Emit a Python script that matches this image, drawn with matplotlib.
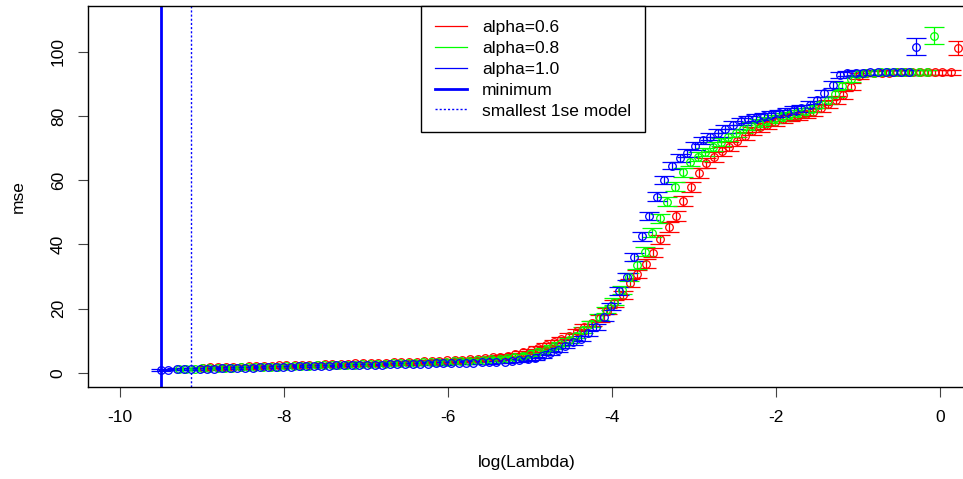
import matplotlib

matplotlib.use("Agg")
import matplotlib.pyplot as plt
from matplotlib.lines import Line2D

plt.rcParams["font.family"] = ["Liberation Sans", "DejaVu Sans"]

# log(lambda) path for each alpha, largest lambda first
LOGLAM_06 = [
    0.22, 0.13, 0.03, -0.06, -0.15, -0.25, -0.34, -0.43, -0.52, -0.62,
    -0.71, -0.80, -0.90, -0.99, -1.08, -1.18, -1.27, -1.36, -1.45, -1.55,
    -1.64, -1.73, -1.83, -1.92, -2.01, -2.11, -2.20, -2.29, -2.38, -2.48,
    -2.57, -2.66, -2.76, -2.85, -2.94, -3.04, -3.13, -3.22, -3.31, -3.41,
    -3.50, -3.59, -3.69, -3.78, -3.87, -3.97, -4.06, -4.15, -4.24, -4.34,
    -4.43, -4.52, -4.62, -4.71, -4.80, -4.90, -4.99, -5.08, -5.18, -5.27,
    -5.36, -5.45, -5.55, -5.64, -5.73, -5.83, -5.92, -6.01, -6.11, -6.20,
    -6.29, -6.38, -6.48, -6.57, -6.66, -6.76, -6.85, -6.94, -7.04, -7.13,
    -7.22, -7.31, -7.41, -7.50, -7.59, -7.69, -7.78, -7.87, -7.97, -8.06,
    -8.15, -8.24, -8.34, -8.43, -8.52, -8.62, -8.71, -8.80, -8.90, -8.99,
]
LOGLAM_08 = [
    -0.07, -0.16, -0.26, -0.35, -0.44, -0.54, -0.63, -0.72, -0.81, -0.91,
    -1.00, -1.09, -1.19, -1.28, -1.37, -1.47, -1.56, -1.65, -1.74, -1.84,
    -1.93, -2.02, -2.12, -2.21, -2.30, -2.40, -2.49, -2.58, -2.67, -2.77,
    -2.86, -2.95, -3.05, -3.14, -3.23, -3.33, -3.42, -3.51, -3.60, -3.70,
    -3.79, -3.88, -3.98, -4.07, -4.16, -4.26, -4.35, -4.44, -4.53, -4.63,
    -4.72, -4.81, -4.91, -5.00, -5.09, -5.19, -5.28, -5.37, -5.47, -5.56,
    -5.65, -5.74, -5.84, -5.93, -6.02, -6.12, -6.21, -6.30, -6.40, -6.49,
    -6.58, -6.67, -6.77, -6.86, -6.95, -7.05, -7.14, -7.23, -7.33, -7.42,
    -7.51, -7.60, -7.70, -7.79, -7.88, -7.98, -8.07, -8.16, -8.26, -8.35,
    -8.44, -8.53, -8.63, -8.72, -8.81, -8.91, -9.00, -9.09, -9.19, -9.28,
]
LOGLAM_10 = [
    -0.29, -0.38, -0.48, -0.57, -0.66, -0.76, -0.85, -0.94, -1.03, -1.13,
    -1.22, -1.31, -1.41, -1.50, -1.59, -1.69, -1.78, -1.87, -1.96, -2.06,
    -2.15, -2.24, -2.34, -2.43, -2.52, -2.62, -2.71, -2.80, -2.89, -2.99,
    -3.08, -3.17, -3.27, -3.36, -3.45, -3.55, -3.64, -3.73, -3.82, -3.92,
    -4.01, -4.10, -4.20, -4.29, -4.38, -4.48, -4.57, -4.66, -4.75, -4.85,
    -4.94, -5.03, -5.13, -5.22, -5.31, -5.41, -5.50, -5.59, -5.69, -5.78,
    -5.87, -5.96, -6.06, -6.15, -6.24, -6.34, -6.43, -6.52, -6.62, -6.71,
    -6.80, -6.89, -6.99, -7.08, -7.17, -7.27, -7.36, -7.45, -7.55, -7.64,
    -7.73, -7.82, -7.92, -8.01, -8.10, -8.20, -8.29, -8.38, -8.48, -8.57,
    -8.66, -8.75, -8.85, -8.94, -9.03, -9.13, -9.22, -9.31, -9.41, -9.50,
]

MSE_06 = [
    101.1, 93.7, 93.7, 93.7, 93.7, 93.6, 93.6, 93.6, 93.6, 93.5,
    93.5, 93.4, 93.3, 92.5, 89.2, 86.6, 85.0, 83.8, 82.4, 81.3,
    80.5, 80.0, 79.6, 79.0, 78.3, 77.3, 76.5, 75.4, 73.8, 72.1,
    70.5, 69.0, 67.2, 65.3, 62.2, 58.0, 53.6, 48.9, 45.4, 41.6,
    37.5, 34.0, 30.8, 27.9, 24.3, 21.7, 19.2, 17.0, 15.4, 14.2,
    12.9, 11.5, 10.4, 9.5, 8.6, 7.8, 7.0, 6.4, 5.8, 5.4,
    5.1, 4.8, 4.6, 4.4, 4.3, 4.1, 4.0, 3.9, 3.8, 3.7,
    3.6, 3.5, 3.45, 3.4, 3.3, 3.2, 3.15, 3.1, 3.0, 2.95,
    2.9, 2.8, 2.75, 2.7, 2.6, 2.55, 2.5, 2.4, 2.35, 2.3,
    2.2, 2.15, 2.1, 2.0, 1.95, 1.9, 1.8, 1.75, 1.7, 1.6,
]
MSE_08 = [
    105.1, 93.7, 93.7, 93.7, 93.6, 93.6, 93.6, 93.6, 93.5, 93.4,
    93.0, 91.5, 89.5, 87.0, 85.0, 83.5, 82.3, 81.5, 80.9, 80.3,
    79.7, 79.1, 78.5, 77.8, 77.0, 75.9, 74.7, 73.4, 72.0, 70.5,
    68.8, 67.4, 65.8, 62.5, 58.0, 53.3, 48.1, 43.7, 37.8, 33.6,
    29.8, 25.8, 22.2, 19.6, 17.4, 15.3, 13.3, 11.6, 10.2, 9.0,
    8.0, 7.1, 6.4, 5.8, 5.3, 4.9, 4.6, 4.4, 4.2, 4.0,
    3.9, 3.8, 3.7, 3.6, 3.5, 3.4, 3.3, 3.25, 3.2, 3.1,
    3.0, 2.95, 2.9, 2.8, 2.75, 2.7, 2.6, 2.55, 2.5, 2.4,
    2.35, 2.3, 2.2, 2.15, 2.1, 2.0, 1.95, 1.9, 1.85, 1.8,
    1.75, 1.7, 1.6, 1.55, 1.5, 1.45, 1.4, 1.35, 1.3, 1.3,
]
MSE_10 = [
    101.6, 93.7, 93.7, 93.6, 93.6, 93.6, 93.6, 93.5, 93.5, 93.3,
    92.8, 89.7, 87.1, 85.0, 83.5, 82.5, 81.9, 81.4, 80.9, 80.4,
    79.9, 79.5, 79.0, 78.4, 77.3, 76.0, 74.8, 73.6, 72.4, 70.7,
    68.6, 66.9, 64.6, 60.1, 54.9, 48.9, 42.5, 36.0, 30.0, 25.5,
    20.7, 17.3, 14.4, 12.3, 10.6, 9.5, 8.5, 7.2, 6.1, 5.2,
    4.6, 4.2, 3.9, 3.7, 3.5, 3.4, 3.3, 3.25, 3.2, 3.15,
    3.1, 3.05, 3.0, 2.95, 2.9, 2.85, 2.8, 2.75, 2.7, 2.65,
    2.6, 2.55, 2.5, 2.45, 2.4, 2.35, 2.3, 2.25, 2.2, 2.15,
    2.1, 2.0, 1.95, 1.9, 1.85, 1.8, 1.7, 1.65, 1.6, 1.5,
    1.45, 1.4, 1.35, 1.3, 1.25, 1.2, 1.15, 1.1, 1.05, 1.0,
]

SE_06 = [
    2.2, 0.8, 0.8, 0.8, 0.8, 0.8, 0.8, 0.8, 0.8, 0.8,
    0.8, 0.8, 0.9, 1.0, 1.2, 1.2, 1.2, 1.2, 1.2, 1.2,
    1.2, 1.2, 1.2, 1.2, 1.3, 1.3, 1.3, 1.3, 1.4, 1.4,
    1.4, 1.4, 1.5, 1.5, 1.5, 1.5, 1.5, 1.5, 1.5, 1.5,
    1.4, 1.4, 1.3, 1.3, 1.2, 1.1, 1.0, 1.0, 0.9, 0.9,
    0.8, 0.8, 0.7, 0.7, 0.6, 0.6, 0.5, 0.5, 0.5, 0.4,
    0.4, 0.4, 0.4, 0.4, 0.4, 0.4, 0.4, 0.4, 0.4, 0.4,
    0.4, 0.4, 0.4, 0.4, 0.3, 0.3, 0.3, 0.3, 0.3, 0.3,
    0.3, 0.3, 0.3, 0.3, 0.3, 0.3, 0.3, 0.3, 0.3, 0.3,
    0.3, 0.3, 0.3, 0.3, 0.3, 0.3, 0.3, 0.3, 0.3, 0.3,
]
SE_08 = [
    2.6, 0.8, 0.8, 0.8, 0.8, 0.8, 0.8, 0.8, 0.8, 0.8,
    0.9, 1.0, 1.1, 1.1, 1.1, 1.1, 1.1, 1.1, 1.1, 1.1,
    1.2, 1.2, 1.2, 1.2, 1.2, 1.2, 1.3, 1.3, 1.3, 1.3,
    1.3, 1.3, 1.4, 1.4, 1.4, 1.4, 1.4, 1.4, 1.4, 1.3,
    1.3, 1.2, 1.1, 1.0, 1.0, 0.9, 0.9, 0.8, 0.8, 0.7,
    0.7, 0.6, 0.6, 0.5, 0.5, 0.5, 0.4, 0.4, 0.4, 0.4,
    0.4, 0.4, 0.4, 0.4, 0.4, 0.4, 0.4, 0.3, 0.3, 0.3,
    0.3, 0.3, 0.3, 0.3, 0.3, 0.3, 0.3, 0.3, 0.3, 0.3,
    0.3, 0.3, 0.3, 0.3, 0.3, 0.3, 0.3, 0.3, 0.3, 0.3,
    0.3, 0.3, 0.3, 0.3, 0.3, 0.3, 0.3, 0.3, 0.3, 0.3,
]
SE_10 = [
    2.6, 0.8, 0.8, 0.8, 0.8, 0.8, 0.8, 0.8, 0.8, 0.8,
    1.0, 1.1, 1.1, 1.1, 1.1, 1.1, 1.1, 1.1, 1.1, 1.1,
    1.1, 1.1, 1.1, 1.1, 1.2, 1.2, 1.2, 1.2, 1.2, 1.2,
    1.2, 1.2, 1.2, 1.3, 1.3, 1.3, 1.3, 1.3, 1.2, 1.2,
    1.1, 1.0, 0.9, 0.9, 0.8, 0.8, 0.7, 0.7, 0.6, 0.6,
    0.5, 0.5, 0.4, 0.4, 0.4, 0.4, 0.4, 0.4, 0.4, 0.4,
    0.4, 0.4, 0.4, 0.4, 0.4, 0.3, 0.3, 0.3, 0.3, 0.3,
    0.3, 0.3, 0.3, 0.3, 0.3, 0.3, 0.3, 0.3, 0.3, 0.3,
    0.3, 0.3, 0.3, 0.3, 0.3, 0.3, 0.3, 0.3, 0.3, 0.3,
    0.3, 0.3, 0.3, 0.3, 0.3, 0.3, 0.3, 0.3, 0.3, 0.3,
]

SERIES_LABELS = ["alpha=0.6", "alpha=0.8", "alpha=1.0"]
SERIES_COLORS = ["#ff0000", "#00ff00", "#0000ff"]

LAMBDA_MIN = -9.50
LAMBDA_1SE = -9.13

X_TICKS = [-10, -8, -6, -4, -2, 0]
Y_TICKS = [0, 20, 40, 60, 80, 100]

FONT_SIZE = 12.5


def plot_cv_curve(ax, loglam, mse, se, color):
    ax.errorbar(
        loglam,
        mse,
        yerr=se,
        fmt="o",
        color=color,
        markerfacecolor="none",
        markeredgecolor=color,
        markersize=5.5,
        markeredgewidth=0.9,
        elinewidth=0.9,
        capsize=7.5,
        capthick=0.9,
    )


if __name__ == "__main__":
    fig = plt.figure(figsize=(9.63, 4.79), dpi=100)
    ax = fig.add_axes([88 / 963, 1 - 387 / 479, (966 - 88) / 963, 381 / 479])

    series = [
        (LOGLAM_06, MSE_06, SE_06),
        (LOGLAM_08, MSE_08, SE_08),
        (LOGLAM_10, MSE_10, SE_10),
    ]
    for (loglam, mse, se), color in zip(series, SERIES_COLORS):
        plot_cv_curve(ax, loglam, mse, se, color)

    ax.axvline(LAMBDA_MIN, color="#0000ff", linewidth=2.0)
    ax.axvline(LAMBDA_1SE, color="#0000ff", linewidth=1.0, linestyle=(0, (1.5, 1.5)))

    ax.set_xlim(-10.39, 0.317)
    ax.set_ylim(-4.4, 114.3)
    ax.set_xticks(X_TICKS)
    ax.set_yticks(Y_TICKS)
    ax.set_xticklabels([str(t) for t in X_TICKS], fontsize=FONT_SIZE)
    ax.set_yticklabels([str(t) for t in Y_TICKS], fontsize=FONT_SIZE, rotation=90, va="center")
    ax.tick_params(axis="both", direction="out", length=7.5, width=0.8, color="#444444")
    ax.tick_params(axis="x", pad=9)
    ax.tick_params(axis="y", pad=8.5)
    for spine in ax.spines.values():
        spine.set_linewidth(1.0)
    ax.set_xlabel("log(Lambda)", fontsize=FONT_SIZE, labelpad=22)
    ax.set_ylabel("mse", fontsize=FONT_SIZE, labelpad=18)

    handles = [Line2D([], [], color=c, linewidth=0.9) for c in SERIES_COLORS]
    handles.append(Line2D([], [], color="#0000ff", linewidth=2.0))
    handles.append(Line2D([], [], color="#0000ff", linewidth=1.0, linestyle=(0, (1.5, 1.5))))
    labels = SERIES_LABELS + ["minimum", "smallest 1se model"]
    leg = ax.legend(
        handles,
        labels,
        loc="upper left",
        bbox_to_anchor=(421 / 963, 1 - 6 / 479),
        bbox_transform=fig.transFigure,
        fontsize=FONT_SIZE,
        frameon=True,
        fancybox=False,
        framealpha=1.0,
        edgecolor="black",
        borderaxespad=0,
        handlelength=1.84,
        handletextpad=0.86,
        labelspacing=0.33,
        borderpad=0.8,
    )
    leg.get_frame().set_linewidth(1.0)

    fig.savefig("out.png", dpi=100)
